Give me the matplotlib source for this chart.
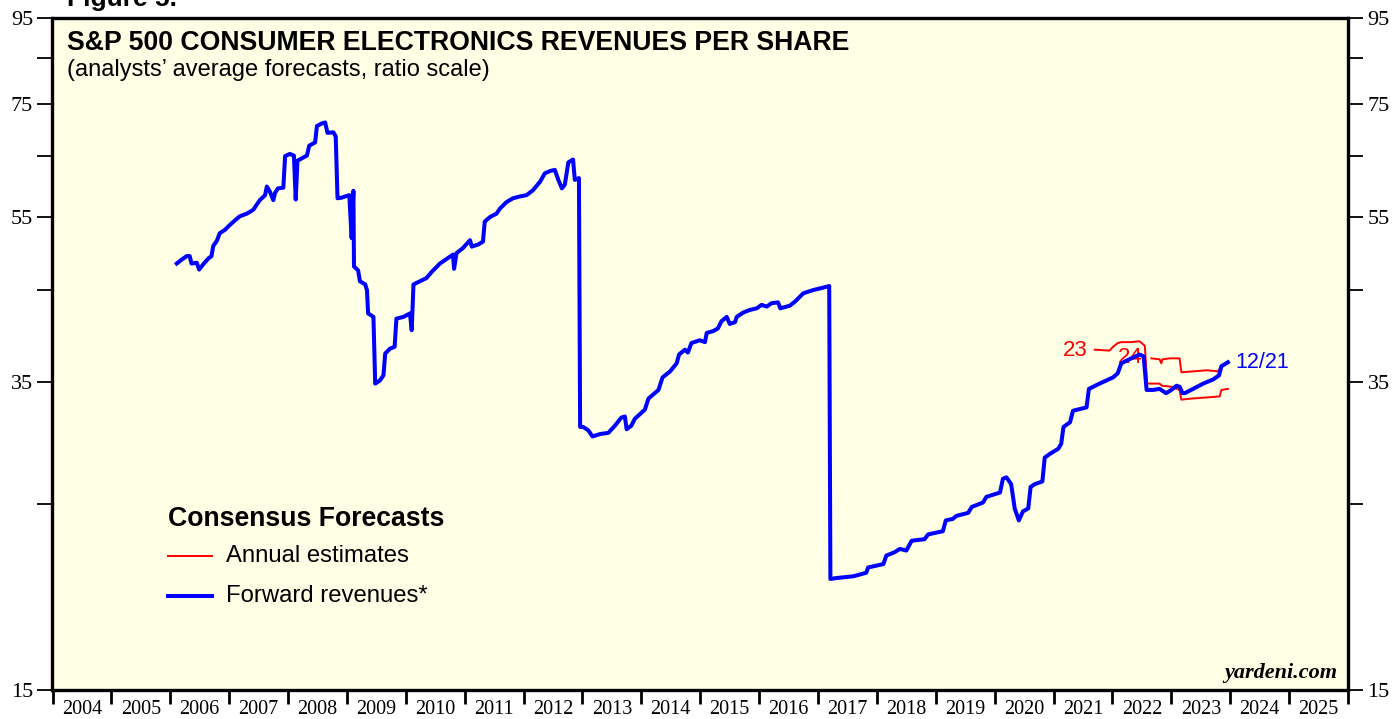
import matplotlib
matplotlib.use("Agg")
import numpy as np
import matplotlib.pyplot as plt
from matplotlib.ticker import NullFormatter, FixedLocator

# forward revenues per share (weekly)
fwd_years = [2006.11, 2006.19, 2006.28, 2006.33, 2006.36, 2006.45, 2006.49, 2006.56, 2006.65, 2006.70,
             2006.73, 2006.79, 2006.84, 2006.93, 2007.01, 2007.10, 2007.18, 2007.30, 2007.41, 2007.52,
             2007.61, 2007.64, 2007.69, 2007.75, 2007.78, 2007.83, 2007.92, 2007.95, 2008.03, 2008.10,
             2008.13, 2008.16, 2008.23, 2008.32, 2008.36, 2008.46, 2008.49, 2008.57, 2008.63, 2008.67,
             2008.77, 2008.81, 2008.84, 2008.91, 2009.04, 2009.08, 2009.11, 2009.12, 2009.19, 2009.22,
             2009.31, 2009.34, 2009.36, 2009.45, 2009.48, 2009.56, 2009.62, 2009.65, 2009.73, 2009.81,
             2009.84, 2009.96, 2010.07, 2010.10, 2010.13, 2010.24, 2010.35, 2010.44, 2010.58, 2010.69,
             2010.80, 2010.82, 2010.86, 2010.97, 2011.09, 2011.12, 2011.23, 2011.31, 2011.34, 2011.43,
             2011.54, 2011.60, 2011.71, 2011.82, 2011.94, 2012.05, 2012.16, 2012.28, 2012.36, 2012.45,
             2012.53, 2012.59, 2012.65, 2012.70, 2012.76, 2012.84, 2012.87, 2012.94, 2012.96, 2013.01,
             2013.10, 2013.17, 2013.30, 2013.44, 2013.55, 2013.66, 2013.72, 2013.75, 2013.83, 2013.89,
             2014.06, 2014.12, 2014.29, 2014.36, 2014.49, 2014.60, 2014.64, 2014.74, 2014.79, 2014.85,
             2014.99, 2015.08, 2015.11, 2015.22, 2015.30, 2015.36, 2015.45, 2015.50, 2015.59, 2015.62,
             2015.73, 2015.84, 2015.96, 2016.04, 2016.13, 2016.21, 2016.32, 2016.36, 2016.52, 2016.61,
             2016.75, 2016.92, 2017.09, 2017.19, 2017.21, 2017.31, 2017.60, 2017.82, 2017.85, 2018.11,
             2018.16, 2018.30, 2018.39, 2018.50, 2018.59, 2018.81, 2018.87, 2019.12, 2019.17, 2019.29,
             2019.35, 2019.55, 2019.61, 2019.80, 2019.86, 2020.09, 2020.14, 2020.20, 2020.28, 2020.34,
             2020.41, 2020.48, 2020.57, 2020.61, 2020.68, 2020.81, 2020.85, 2020.94, 2021.08, 2021.13,
             2021.16, 2021.17, 2021.28, 2021.33, 2021.56, 2021.60, 2021.78, 2022.01, 2022.09, 2022.15,
             2022.32, 2022.46, 2022.53, 2022.58, 2022.69, 2022.80, 2022.91, 2023.00, 2023.09, 2023.14,
             2023.19, 2023.23, 2023.37, 2023.54, 2023.71, 2023.81, 2023.85, 2023.96]
fwd_values = [48.4, 48.9, 49.4, 49.4, 48.4, 48.5, 47.6, 48.3, 49.1, 49.4,
              50.8, 51.5, 52.6, 53.1, 53.8, 54.5, 55.1, 55.5, 56.1, 57.6,
              58.4, 59.8, 59.0, 57.6, 58.8, 59.5, 59.6, 65.0, 65.4, 65.1,
              57.7, 64.2, 64.6, 65.1, 66.9, 67.5, 70.6, 71.1, 71.3, 69.3,
              69.4, 68.6, 57.9, 58.0, 58.4, 51.9, 59.1, 48.0, 47.5, 46.1,
              45.7, 45.0, 42.2, 41.8, 34.8, 35.1, 35.6, 37.8, 38.3, 38.5,
              41.6, 41.8, 42.2, 40.3, 45.7, 46.1, 46.5, 47.3, 48.4, 49.0,
              49.6, 47.7, 49.8, 50.5, 51.6, 50.7, 51.0, 51.4, 54.3, 55.0,
              55.5, 56.3, 57.3, 57.9, 58.2, 58.4, 59.2, 60.6, 62.0, 62.4,
              62.6, 60.9, 59.5, 60.1, 63.9, 64.4, 60.9, 61.2, 30.9, 30.9,
              30.6, 30.1, 30.3, 30.4, 31.0, 31.7, 31.8, 30.7, 31.0, 31.6,
              32.4, 33.4, 34.2, 35.4, 36.0, 36.8, 37.7, 38.2, 37.9, 38.9,
              39.2, 39.0, 40.0, 40.2, 40.5, 41.3, 41.8, 41.0, 41.2, 41.8,
              42.3, 42.6, 42.8, 43.2, 43.0, 43.4, 43.5, 42.8, 43.1, 43.6,
              44.6, 45.0, 45.3, 45.5, 20.35, 20.4, 20.5, 20.7, 21.0, 21.2,
              21.7, 21.9, 22.1, 22.0, 22.6, 22.7, 23.0, 23.2, 23.9, 24.0,
              24.2, 24.4, 24.8, 25.1, 25.5, 25.8, 26.8, 26.9, 26.4, 24.7,
              23.9, 24.5, 24.7, 26.2, 26.4, 26.6, 28.4, 28.7, 29.1, 29.5,
              30.6, 30.9, 31.3, 32.3, 32.6, 34.3, 34.8, 35.4, 35.8, 36.8,
              37.3, 37.7, 37.5, 34.2, 34.2, 34.3, 33.9, 34.2, 34.6, 34.5,
              33.9, 33.9, 34.3, 34.8, 35.2, 35.6, 36.5, 36.9]

# annual consensus estimates for 2023
est23_years = [2021.70, 2021.95, 2022.01, 2022.09, 2022.15, 2022.32, 2022.46, 2022.55, 2022.59, 2022.80,
               2022.84, 2023.00, 2023.14, 2023.17, 2023.34, 2023.60, 2023.82, 2023.85, 2023.96]
est23_values = [38.2, 38.1, 38.5, 38.9, 39.0, 39.0, 39.1, 38.6, 34.8, 34.8,
                34.6, 34.5, 34.2, 33.3, 33.4, 33.5, 33.6, 34.2, 34.3]

# annual consensus estimates for 2024
est24_years = [2022.66, 2022.80, 2022.83, 2022.85, 2022.97, 2023.14, 2023.17, 2023.60, 2023.79, 2023.85, 2023.96]
est24_values = [37.3, 37.2, 36.8, 37.2, 37.3, 37.3, 35.9, 36.1, 36.0, 36.5, 36.8]

year_labels = [str(y) for y in range(2004, 2026)]
y_major = [15, 35, 55, 75, 95]
y_minor = [25, 45, 65, 85]

bg = "#FFFFE6"
blue = "#0000FF"
red = "#FF0000"
serif = "Liberation Serif"
sans = "Liberation Sans"

fig = plt.figure(figsize=(13.93, 7.19), dpi=100)
ax = fig.add_axes([52.5 / 1393, 1 - 690 / 719, 1295.5 / 1393, 672 / 719])
ax.set_facecolor(bg)

ax.plot(est23_years, est23_values, color=red, lw=1.4, zorder=3)
ax.plot(est24_years, est24_values, color=red, lw=1.4, zorder=3)
ax.plot(fwd_years, fwd_values, color=blue, lw=2.9, zorder=4)

ax.set_yscale("log")
ax.set_ylim(15, 95)
ax.set_xlim(2004, 2026)

ax.yaxis.set_major_locator(FixedLocator(y_major))
ax.yaxis.set_minor_locator(FixedLocator(y_minor))
ax.set_yticklabels([str(v) for v in y_major])
ax.yaxis.set_minor_formatter(NullFormatter())

ax.set_xticks(range(2004, 2027))
ax.set_xticklabels([])
ax.set_xticks([y + 0.5 for y in range(2004, 2026)], minor=True)
ax.set_xticklabels(year_labels, minor=True)

ax.tick_params(axis="y", which="both", direction="out", length=11, width=1.3,
               left=True, right=True, labelleft=True, labelright=True,
               labelsize=16, pad=3)
ax.tick_params(axis="x", which="major", direction="out", length=10, width=2, bottom=True)
ax.tick_params(axis="x", which="minor", length=0, labelsize=14.5, pad=7.5)
for lab in ax.get_xticklabels(minor=True):
    lab.set_family(serif)
for lab in ax.yaxis.get_majorticklabels():
    lab.set_family(serif)

for s in ax.spines.values():
    s.set_linewidth(2.4)
    s.set_color("black")

# titles
ax.text(0.011, 0.952, "S&P 500 CONSUMER ELECTRONICS REVENUES PER SHARE", transform=ax.transAxes,
        fontsize=19.2, fontweight="bold", family=sans, va="baseline")
ax.text(0.011, 0.913, "(analysts\u2019 average forecasts, ratio scale)", transform=ax.transAxes,
        fontsize=17, family=sans, va="baseline")
fig.text(67 / 1393, 1 - 6 / 719, "Figure 5.", fontsize=19, fontweight="bold", family=sans, va="baseline")

# line labels
ax.text(2021.58, 38.1, "23", color=red, fontsize=16, family=sans, ha="right", va="center")
ax.text(2022.52, 37.4, "24", color=red, fontsize=16, family=sans, ha="right", va="center", zorder=2)
ax.text(2024.09, 36.9, "12/21", color=blue, fontsize=15.5, family=sans, ha="left", va="center")

# legend
ax.text(0.0892, 0.2545, "Consensus Forecasts", transform=ax.transAxes, fontsize=19.2,
        fontweight="bold", family=sans, va="center")
ax.plot([0.0892, 0.1231], [0.1994, 0.1994], color=red, lw=1.4, transform=ax.transAxes)
ax.plot([0.0892, 0.1231], [0.1399, 0.1399], color=blue, lw=2.9, transform=ax.transAxes)
ax.text(0.134, 0.1994, "Annual estimates", transform=ax.transAxes, fontsize=17.2, family=sans, va="center")
ax.text(0.134, 0.1399, "Forward revenues*", transform=ax.transAxes, fontsize=17.2, family=sans, va="center")

ax.text(0.992, 0.010, "yardeni.com", transform=ax.transAxes, fontsize=16, family=serif,
        fontweight="bold", style="italic", ha="right", va="bottom")

fig.savefig("out.png", dpi=100, facecolor="white")
